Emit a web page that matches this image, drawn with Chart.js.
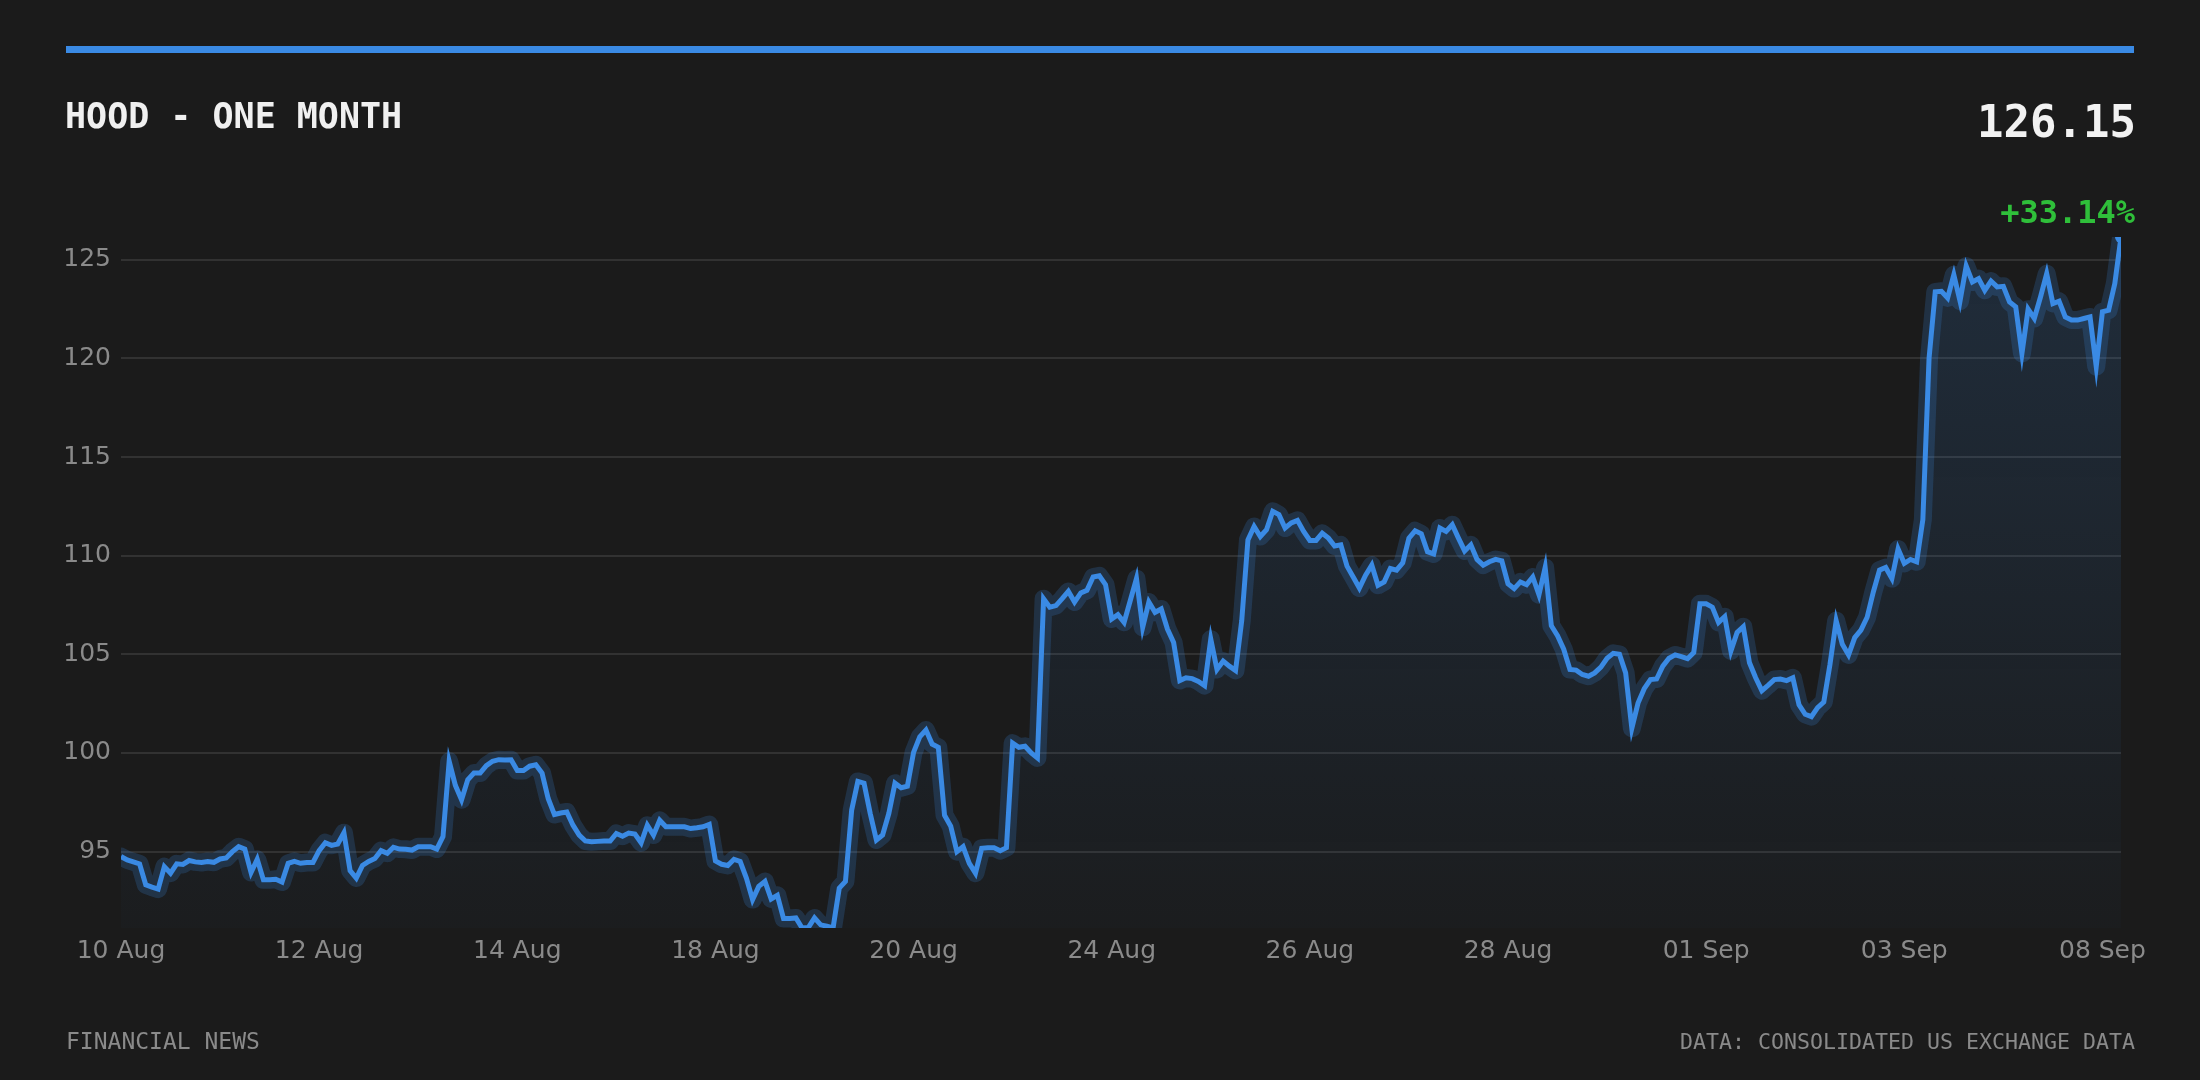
<!DOCTYPE html>
<html>
<head>
<meta charset="utf-8">
<script src="https://cdn.jsdelivr.net/npm/chart.js@4.4.1/dist/chart.umd.min.js"></script>
<style>
  body { margin: 0; background: #1b1b1b; }
  #wrap { position: relative; width: 2200px; height: 1080px; overflow: hidden; }
  #chart { position: absolute; left: 0; top: 0; }
  .txt { position: absolute; font-family: 'DejaVu Sans Mono', monospace; line-height: 1; white-space: nowrap; }
  #bar { position: absolute; left: 66px; top: 46px; width: 2068px; height: 7px; background: #3a8ae4; }
</style>
</head>
<body>
<div id="wrap">
  <canvas id="chart" width="2200" height="1080"></canvas>
  <div id="bar"></div>
  <div class="txt" style="left:65px;top:99px;font-size:35px;font-weight:bold;color:#f0f0f0">HOOD - ONE MONTH</div>
  <div class="txt" style="right:64px;top:100px;font-size:44px;font-weight:bold;color:#f2f2f2">126.15</div>
  <div class="txt" style="right:65px;top:196px;font-size:32px;font-weight:bold;color:#2fbf3a">+33.14%</div>
  <div class="txt" style="left:66px;top:1030px;font-size:23px;color:#8a8a8a">FINANCIAL NEWS</div>
  <div class="txt" style="right:65px;top:1031px;font-size:21.6px;color:#8a8a8a">DATA: CONSOLIDATED US EXCHANGE DATA</div>
</div>
<script>
'use strict'

// x tick labels, one every 32 points
var tickLabels = ['10 Aug', '12 Aug', '14 Aug', '18 Aug', '20 Aug', '24 Aug',
  '26 Aug', '28 Aug', '01 Sep', '03 Sep', '08 Sep'];
var labelEvery = 32;

var yTicks = [95, 100, 105, 110, 115, 120, 125];

var prices = [
  94.75, 94.58, 94.48, 94.38, 93.32, 93.20, 93.10, 94.24, 93.91, 94.38,
  94.35, 94.55, 94.48, 94.45, 94.50, 94.46, 94.63, 94.68, 95.00, 95.25,
  95.13, 93.94, 94.61, 93.57, 93.57, 93.60, 93.46, 94.41, 94.51, 94.41,
  94.45, 94.45, 95.05, 95.45, 95.32, 95.39, 95.96, 94.04, 93.66, 94.30,
  94.50, 94.65, 95.05, 94.92, 95.22, 95.13, 95.12, 95.08, 95.25, 95.25,
  95.25, 95.13, 95.76, 99.58, 98.36, 97.63, 98.64, 98.98, 98.98, 99.36,
  99.58, 99.66, 99.65, 99.66, 99.11, 99.11, 99.33, 99.40, 98.98, 97.68,
  96.88, 96.96, 97.01, 96.34, 95.84, 95.54, 95.50, 95.52, 95.54, 95.54,
  95.92, 95.78, 95.94, 95.89, 95.45, 96.34, 95.84, 96.59, 96.26, 96.26,
  96.26, 96.26, 96.17, 96.21, 96.26, 96.38, 94.53, 94.36, 94.30, 94.61,
  94.50, 93.66, 92.57, 93.24, 93.49, 92.60, 92.79, 91.61, 91.61, 91.64,
  91.13, 91.15, 91.64, 91.29, 91.22, 91.13, 93.15, 93.49, 97.10, 98.56,
  98.47, 96.93, 95.59, 95.84, 96.93, 98.47, 98.24, 98.32, 100.03, 100.82,
  101.16, 100.45, 100.29, 96.85, 96.29, 95.00, 95.25, 94.41, 93.91, 95.17,
  95.20, 95.20, 95.05, 95.20, 100.50, 100.29, 100.34, 100.00, 99.75, 107.82,
  107.39, 107.47, 107.82, 108.19, 107.65, 108.11, 108.24, 108.92, 108.98, 108.53,
  106.79, 107.01, 106.62, 107.73, 108.84, 106.37, 107.65, 107.13, 107.30, 106.28,
  105.60, 103.67, 103.81, 103.77, 103.63, 103.41, 105.77, 104.23, 104.66, 104.40,
  104.18, 106.71, 110.80, 111.48, 110.97, 111.31, 112.25, 112.08, 111.40, 111.66,
  111.79, 111.23, 110.77, 110.77, 111.14, 110.89, 110.49, 110.55, 109.47, 108.92,
  108.36, 109.01, 109.52, 108.50, 108.67, 109.35, 109.27, 109.64, 110.89, 111.26,
  111.11, 110.20, 110.09, 111.40, 111.23, 111.57, 110.89, 110.24, 110.55, 109.81,
  109.52, 109.69, 109.81, 109.74, 108.58, 108.33, 108.67, 108.53, 108.92, 108.02,
  109.40, 106.45, 105.94, 105.26, 104.23, 104.20, 103.98, 103.89, 104.06, 104.35,
  104.80, 105.05, 105.00, 104.06, 101.25, 102.53, 103.26, 103.72, 103.75, 104.40,
  104.80, 104.97, 104.88, 104.78, 105.09, 107.56, 107.56, 107.39, 106.62, 106.91,
  105.17, 106.11, 106.40, 104.57, 103.81, 103.16, 103.43, 103.72, 103.75, 103.67,
  103.81, 102.44, 101.96, 101.84, 102.30, 102.58, 104.49, 106.71, 105.51, 104.97,
  105.85, 106.23, 106.88, 108.16, 109.27, 109.40, 108.84, 110.34, 109.61, 109.81,
  109.69, 111.83, 120.00, 123.37, 123.40, 123.06, 124.24, 122.90, 124.68, 123.87,
  124.04, 123.45, 123.92, 123.62, 123.65, 122.86, 122.61, 120.25, 122.49, 122.02,
  123.11, 124.29, 122.78, 122.90, 122.10, 121.94, 121.94, 122.02, 122.10, 119.58,
  122.36, 122.44, 123.79, 126.15
];

var labels = prices.map(function (p, i) {
  return i % labelEvery === 0 ? tickLabels[i / labelEvery] : '';
});

var blue = '#3a8ae4';
var lastIdx = prices.length - 1;

var fillGradient = function (c) {
  var area = c.chart.chartArea;
  if (!area) return 'rgba(0,0,0,0)';
  var g = c.chart.ctx.createLinearGradient(0, area.top, 0, area.bottom);
  g.addColorStop(0, 'rgba(58,138,228,0.16)');
  g.addColorStop(1, 'rgba(58,138,228,0.02)');
  return g;
};

var ctx = document.getElementById('chart');
var mychart = new Chart(ctx, {
  type: 'line',
  data: {
    labels: labels,
    datasets: [{
      label: 'HOOD',
      data: prices,
      borderColor: blue,
      borderWidth: 5,
      tension: 0,
      fill: false,
      clip: 0,
      pointRadius: function (c) { return c.dataIndex === lastIdx ? 6 : 0; },
      pointBackgroundColor: blue,
      pointBorderWidth: 0
    }, {
      label: 'glow',
      data: prices,
      borderColor: 'rgba(58,138,228,0.2)',
      borderWidth: 18,
      borderJoinStyle: 'round',
      borderCapStyle: 'round',
      tension: 0,
      fill: 'start',
      backgroundColor: fillGradient,
      clip: 0,
      pointRadius: 0
    }]
  },
  options: {
    responsive: false,
    devicePixelRatio: 1,
    animation: false,
    layout: { padding: { left: 62, right: 79, top: 237, bottom: 112 } },
    plugins: { legend: { display: false }, tooltip: { enabled: false } },
    scales: {
      x: {
        grid: { display: false, drawTicks: false },
        border: { display: false },
        ticks: {
          autoSkip: false,
          maxRotation: 0,
          padding: 8,
          color: '#8a8a8a',
          font: { family: 'DejaVu Sans', size: 25 }
        },
        afterFit: function (s) { s.height = 40; }
      },
      y: {
        min: Math.min.apply(null, prices),
        max: Math.max.apply(null, prices),
        grid: { color: 'rgba(255,255,255,0.1)', lineWidth: 2, drawTicks: false },
        border: { display: false },
        afterBuildTicks: function (s) {
          s.ticks = yTicks.map(function (v) { return { value: v }; });
        },
        ticks: {
          padding: 10,
          color: '#8a8a8a',
          font: { family: 'DejaVu Sans', size: 25 }
        },
        afterFit: function (s) { s.width = 59; }
      }
    }
  }
});
</script>
</body>
</html>
